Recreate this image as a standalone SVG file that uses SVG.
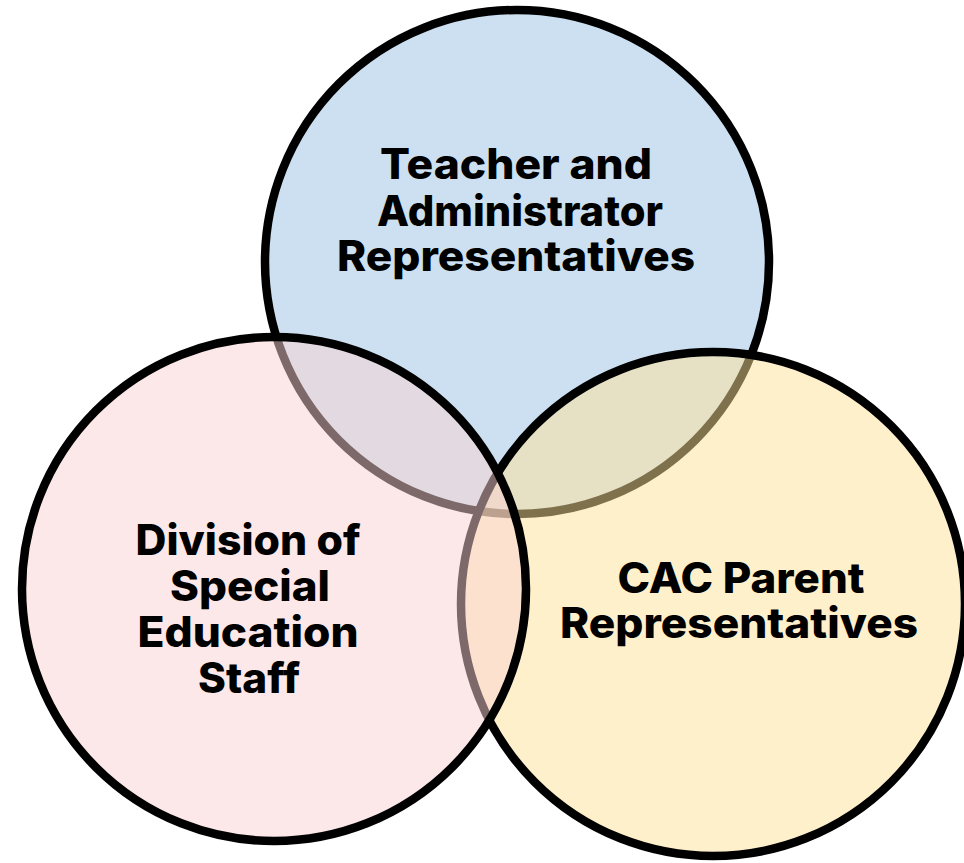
<svg xmlns="http://www.w3.org/2000/svg" width="964" height="863" viewBox="0 0 964 863">
  <style>
    .ring { stroke: #000; stroke-width: 8.5; }
    .blue { fill: #CCE0F1; }
    .yellow { fill: #FFE29A; fill-opacity: 0.5; }
    .pink { fill: #FAD1D1; fill-opacity: 0.5; }
    .lbl { font-family: Inter, "Open Sans", "Liberation Sans", sans-serif; font-weight: 800; font-size: 42px; fill: #000; text-anchor: middle; }
  </style>
  <rect width="964" height="863" fill="#fff"/>
  <g id="teacher">
    <circle class="ring blue" cx="517" cy="262" r="252"/>
  </g>
  <g id="cac">
    <circle class="ring yellow" cx="713" cy="604" r="252"/>
  </g>
  <g id="division">
    <circle class="ring pink" cx="274" cy="589" r="252"/>
  </g>
  <g id="labels">
    <text class="lbl" x="516" y="179" textLength="272" lengthAdjust="spacingAndGlyphs">Teacher and</text>
    <text class="lbl" x="520" y="226" textLength="286" lengthAdjust="spacingAndGlyphs">Administrator</text>
    <text class="lbl" x="516" y="271" textLength="358" lengthAdjust="spacingAndGlyphs">Representatives</text>
    <text class="lbl" x="248" y="555" textLength="225" lengthAdjust="spacingAndGlyphs">Division of</text>
    <text class="lbl" x="250" y="601" textLength="160" lengthAdjust="spacingAndGlyphs">Special</text>
    <text class="lbl" x="248" y="647" textLength="221" lengthAdjust="spacingAndGlyphs">Education</text>
    <text class="lbl" x="249" y="693" textLength="102" lengthAdjust="spacingAndGlyphs">Staff</text>
    <text class="lbl" x="741" y="593" textLength="247" lengthAdjust="spacingAndGlyphs">CAC Parent</text>
    <text class="lbl" x="739" y="638" textLength="358" lengthAdjust="spacingAndGlyphs">Representatives</text>
  </g>
</svg>
